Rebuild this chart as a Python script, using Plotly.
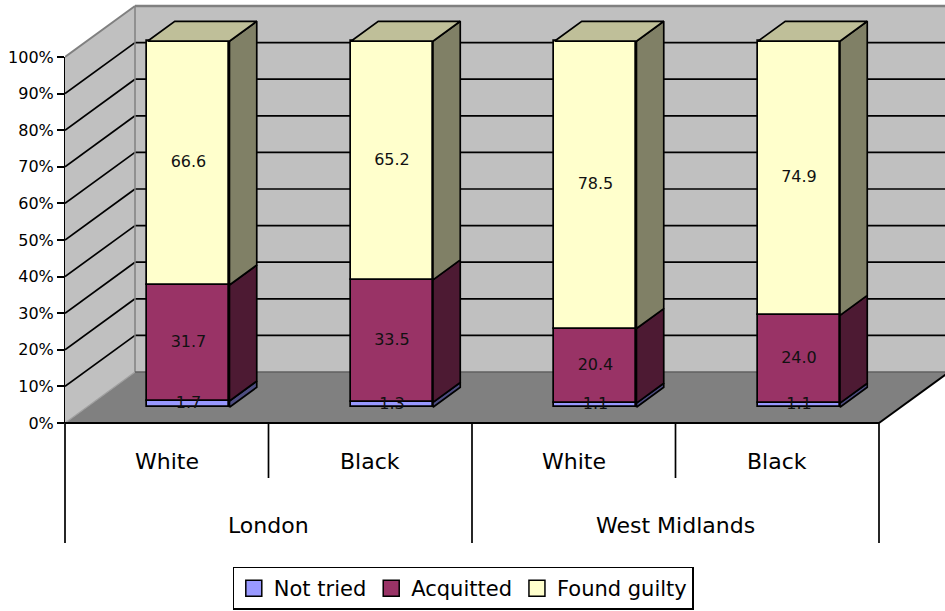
import plotly.graph_objects as go

# ---- data -------------------------------------------------------------
regions = ["London", "West Midlands"]
ethnicity = ["White", "Black", "White", "Black"]
series_names = ["Not tried", "Acquitted", "Found guilty"]
not_tried = [1.7, 1.3, 1.1, 1.1]
acquitted = [31.7, 33.5, 20.4, 24.0]
found_guilty = [66.6, 65.2, 78.5, 74.9]
y_ticks = [0, 10, 20, 30, 40, 50, 60, 70, 80, 90, 100]
y_tick_labels = [f"{v}%" for v in y_ticks]

# ---- styling ----------------------------------------------------------
front_colors = ["#9999FF", "#993366", "#FFFFCC"]
side_colors = ["#4D4D80", "#4D1A33", "#808066"]
top_colors = ["#7373BF", "#73264D", "#BFBF99"]
WALL = "#C0C0C0"
FLOOR = "#808080"
EDGE = "#808080"
FONT = "DejaVu Sans"
LW = 1.7  # outline width for columns, gridlines and table rules

# ---- geometry (oblique 3-D projection) ---------------------------------
W, H = 945, 611
ML = 65                 # left margin: the value axis sits here
PX_PER_SLOT = 203.5     # width of one category slot
PX_PER_PCT = 3.66       # vertical scale of the value axis
Y0_PX = 423             # pixel row of 0 %
DEPTH_X = 70 / PX_PER_SLOT   # full-depth shift, in category units
DEPTH_Y = 51 / PX_PER_PCT    # full-depth shift, in percent units
D_FRONT, D_BACK = 0.31, 0.70 # depth band occupied by the columns
BAR_W = 82 / PX_PER_SLOT

x_range = [-0.5, -0.5 + (W - ML) / PX_PER_SLOT]
y_range = [-(H - Y0_PX) / PX_PER_PCT, Y0_PX / PX_PER_PCT]


def px_to_y(py):
    return (Y0_PX - py) / PX_PER_PCT


n = len(ethnicity)
x_left, x_right = -0.5, n - 0.5
series = [not_tried, acquitted, found_guilty]


def path(points):
    return "M " + " L ".join(f"{x},{y}" for x, y in points) + " Z"


def seg(x0, y0, x1, y1, color, width=LW, xref="x"):
    return dict(type="line", xref=xref, yref="y", x0=x0, y0=y0, x1=x1, y1=y1,
                line=dict(color=color, width=width), layer="below")


shapes = []
# back wall, side wall, floor
shapes.append(dict(type="path", xref="x", yref="y", layer="below",
                   path=path([(x_left + DEPTH_X, DEPTH_Y), (x_right + DEPTH_X, DEPTH_Y),
                              (x_right + DEPTH_X, 100 + DEPTH_Y), (x_left + DEPTH_X, 100 + DEPTH_Y)]),
                   fillcolor=WALL, line=dict(width=0)))
shapes.append(dict(type="path", xref="x", yref="y", layer="below",
                   path=path([(x_left, 0), (x_left, 100),
                              (x_left + DEPTH_X, 100 + DEPTH_Y), (x_left + DEPTH_X, DEPTH_Y)]),
                   fillcolor=WALL, line=dict(width=0)))
shapes.append(dict(type="path", xref="x", yref="y", layer="below",
                   path=path([(x_left, 0), (x_right, 0),
                              (x_right + DEPTH_X, DEPTH_Y), (x_left + DEPTH_X, DEPTH_Y)]),
                   fillcolor=FLOOR, line=dict(width=0)))
# gridlines on side and back walls
for v in y_ticks[1:-1]:
    shapes.append(seg(x_left, v, x_left + DEPTH_X, v + DEPTH_Y, "black"))
    shapes.append(seg(x_left + DEPTH_X, v + DEPTH_Y, x_right + DEPTH_X, v + DEPTH_Y, "black"))
# wall edges
shapes.append(seg(x_left, 100, x_left + DEPTH_X, 100 + DEPTH_Y, EDGE, 2))
shapes.append(seg(x_left + DEPTH_X, 100 + DEPTH_Y, x_right + DEPTH_X, 100 + DEPTH_Y, EDGE, 2.5))
shapes.append(seg(x_left + DEPTH_X, DEPTH_Y, x_left + DEPTH_X, 100 + DEPTH_Y, EDGE, 1.5))
shapes.append(seg(x_left, 0, x_left + DEPTH_X, DEPTH_Y, "#A0A0A0", 1.2))
shapes.append(seg(x_left + DEPTH_X, DEPTH_Y, x_right + DEPTH_X, DEPTH_Y, "#606060", 1.5))
# floor front/right edges and value axis line (the axis sits on the paper's left edge)
shapes.append(seg(x_left, 0, x_right, 0, "black", 2))
shapes.append(seg(x_right, 0, x_right + DEPTH_X, DEPTH_Y, "black", 2))
shapes.append(seg(0, 0, 0, 100, "black", 2, xref="paper"))

# category table below the floor
y_short, y_long = px_to_y(478), px_to_y(543)
per_region = n // len(regions)
for b in range(n + 1):
    bx = b - 0.5
    y_end = y_long if b % per_region == 0 else y_short
    if b == 0:
        shapes.append(seg(0, 0, 0, y_end, "black", LW, xref="paper"))
    else:
        shapes.append(seg(bx, 0, bx, y_end, "black", LW))

annotations = []
for i, lab in enumerate(ethnicity):
    annotations.append(dict(x=i, y=px_to_y(461), xref="x", yref="y", text=lab,
                            showarrow=False, font=dict(family=FONT, size=22, color="black")))
for r, lab in enumerate(regions):
    cx = r * per_region + (per_region - 1) / 2
    annotations.append(dict(x=cx, y=px_to_y(525), xref="x", yref="y", text=lab,
                            showarrow=False, font=dict(family=FONT, size=22, color="black")))

fig = go.Figure()

# ---- columns ------------------------------------------------------------
xc = [i + D_FRONT * DEPTH_X for i in range(n)]
dx = (D_BACK - D_FRONT) * DEPTH_X
dy = (D_BACK - D_FRONT) * DEPTH_Y
cum = [0.0] * n
bases_all = []
for k, vals in enumerate(series):
    bases = [cum[i] + D_FRONT * DEPTH_Y for i in range(n)]
    bases_all.append(bases)
    fig.add_trace(go.Bar(x=xc, y=vals, base=bases, width=BAR_W,
                         marker=dict(color=front_colors[k], line=dict(color="black", width=LW)),
                         showlegend=False, hoverinfo="skip"))
    cum = [cum[i] + vals[i] for i in range(n)]

# side faces of every segment
for k, vals in enumerate(series):
    xs, ys = [], []
    for i in range(n):
        xr = xc[i] + BAR_W / 2
        y0 = bases_all[k][i]
        y1 = y0 + vals[i]
        xs += [xr, xr + dx, xr + dx, xr, xr, None]
        ys += [y0, y0 + dy, y1 + dy, y1, y0, None]
    fig.add_trace(go.Scatter(x=xs, y=ys, mode="lines", fill="toself",
                             fillcolor=side_colors[k], line=dict(color="black", width=LW),
                             showlegend=False, hoverinfo="skip"))

# top faces of the highest segment
xs, ys = [], []
for i in range(n):
    xl, xr = xc[i] - BAR_W / 2, xc[i] + BAR_W / 2
    yt = bases_all[-1][i] + series[-1][i]
    xs += [xl, xr, xr + dx, xl + dx, xl, None]
    ys += [yt, yt, yt + dy, yt + dy, yt, None]
fig.add_trace(go.Scatter(x=xs, y=ys, mode="lines", fill="toself",
                         fillcolor=top_colors[-1], line=dict(color="black", width=LW),
                         showlegend=False, hoverinfo="skip"))

# value labels in the middle of each segment's front face
for k, vals in enumerate(series):
    fig.add_trace(go.Scatter(
        x=xc, y=[bases_all[k][i] + vals[i] / 2 for i in range(n)],
        mode="text", text=[f"{v:.1f}" for v in vals],
        textfont=dict(family=FONT, size=16, color="#111111"),
        showlegend=False, hoverinfo="skip"))

# legend entries
for k, name in enumerate(series_names):
    fig.add_trace(go.Scatter(x=[None], y=[None], mode="markers", name=name,
                             marker=dict(symbol="square", size=16, color=front_colors[k],
                                         line=dict(color="black", width=1.5))))

fig.update_layout(
    width=W, height=H, autosize=False,
    margin=dict(l=ML, r=0, t=0, b=0),
    paper_bgcolor="white", plot_bgcolor="white",
    barmode="overlay", bargap=0,
    shapes=shapes, annotations=annotations,
    xaxis=dict(range=x_range, visible=False, fixedrange=True),
    yaxis=dict(range=y_range, tickvals=y_ticks, ticktext=y_tick_labels,
               ticks="outside", ticklen=7, tickwidth=1.6, tickcolor="black",
               showgrid=False, zeroline=False, showline=False,
               tickfont=dict(family=FONT, size=16, color="black"), fixedrange=True),
    legend=dict(orientation="h", x=(463 - ML) / (W - ML), xanchor="center",
                y=0.002, yanchor="bottom", bgcolor="white",
                bordercolor="black", borderwidth=1.3,
                font=dict(family=FONT, size=21, color="black"),
                traceorder="normal"),
    showlegend=True,
)

fig.write_html("out.html")
